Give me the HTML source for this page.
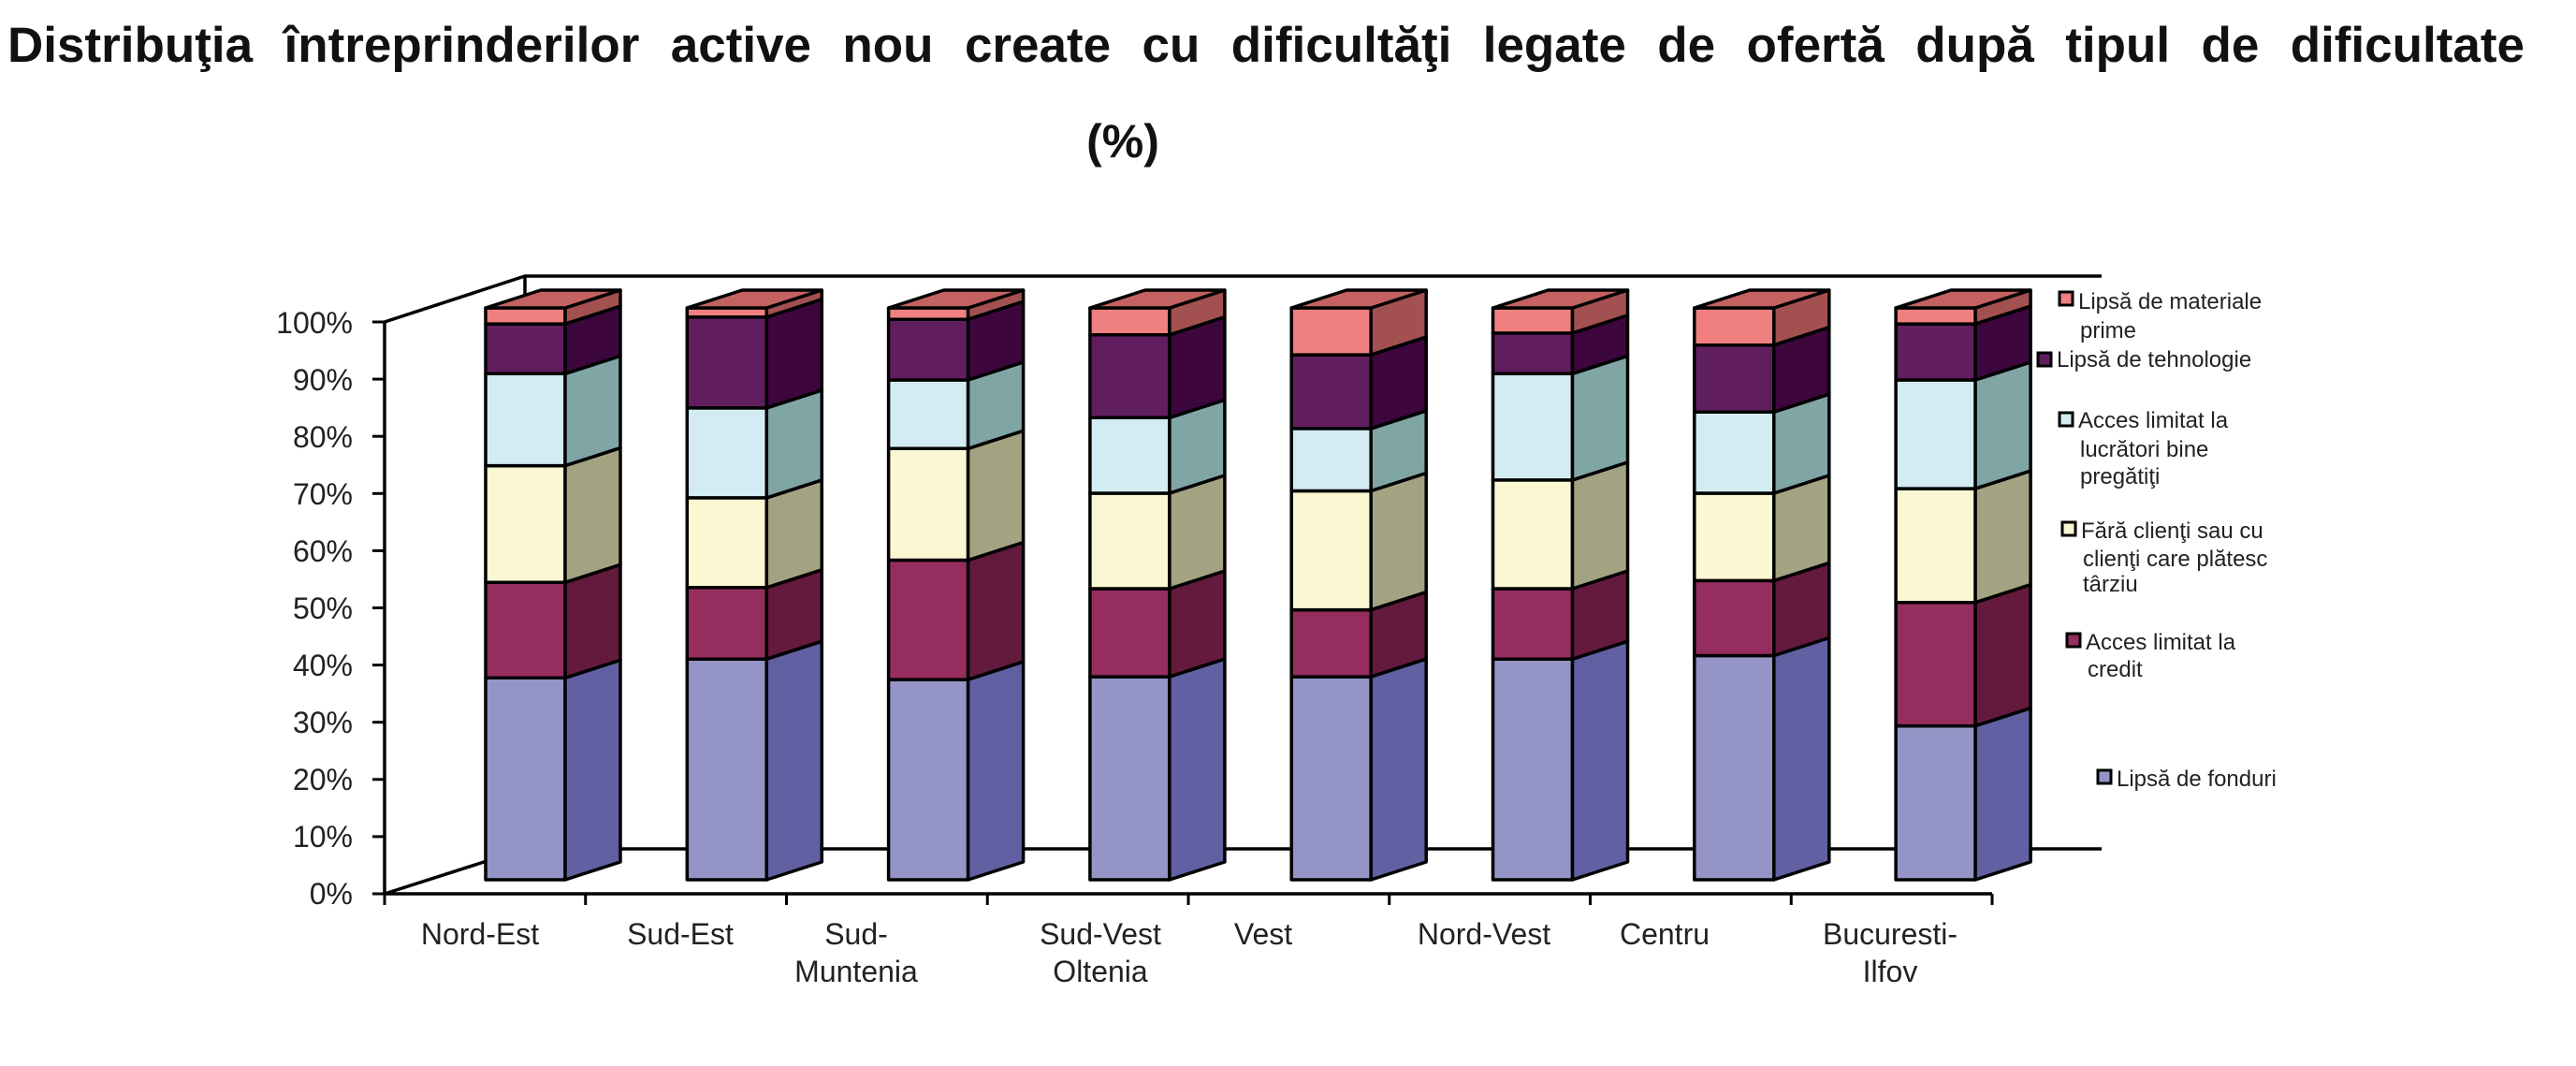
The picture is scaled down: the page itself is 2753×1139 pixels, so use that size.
<!DOCTYPE html>
<html><head><meta charset="utf-8"><style>
html,body{margin:0;padding:0;background:#fff;}
svg{display:block;font-family:"Liberation Sans",Arial,sans-serif;}
#title{position:absolute;left:8px;top:20px;width:2690px;font-family:"Liberation Sans",Arial,sans-serif;font-weight:bold;font-size:53px;line-height:58px;color:#111;text-align:justify;text-align-last:justify;white-space:nowrap;}
</style></head><body>
<div id="title">Distribuţia întreprinderilor active nou create cu dificultăţi legate de ofertă după tipul de dificultate</div>
<svg id="s" width="2753" height="1139" viewBox="0 0 2753 1139" xmlns="http://www.w3.org/2000/svg">
<defs><clipPath id="lg"><rect x="2160" y="290" width="296" height="600"/></clipPath></defs>
<text x="1200" y="168" font-size="50" font-weight="bold" text-anchor="middle" fill="#111">(%)</text>
<g stroke="#000" stroke-width="3.5" fill="none">
<polyline points="411,344 561,295 2246,295"/>
<line x1="561" y1="295" x2="561" y2="907"/>
<line x1="561" y1="907" x2="2246" y2="907"/>
<line x1="411" y1="955" x2="561" y2="907"/>
<line x1="411" y1="344" x2="411" y2="955"/>
<line x1="411" y1="955" x2="2129" y2="955"/>
</g>
<g id="ticks" stroke="#000" stroke-width="3"></g>
<g id="bars"></g>
<g font-size="32" fill="#222" text-anchor="end">
<text x="377" y="966">0%</text><text x="377" y="905">10%</text><text x="377" y="844">20%</text><text x="377" y="783">30%</text><text x="377" y="722">40%</text><text x="377" y="661">50%</text><text x="377" y="600">60%</text><text x="377" y="539">70%</text><text x="377" y="478">80%</text><text x="377" y="417">90%</text><text x="377" y="356">100%</text>
</g>
<g font-size="32" fill="#222" text-anchor="middle">
<text x="513" y="1009">Nord-Est</text>
<text x="727" y="1009">Sud-Est</text>
<text x="915" y="1009">Sud-</text><text x="915" y="1049">Muntenia</text>
<text x="1176" y="1009">Sud-Vest</text><text x="1176" y="1049">Oltenia</text>
<text x="1350" y="1009">Vest</text>
<text x="1586" y="1009">Nord-Vest</text>
<text x="1779" y="1009">Centru</text>
<text x="2020" y="1009">Bucuresti-</text><text x="2020" y="1049">Ilfov</text>
</g>
<g font-size="24" fill="#222" clip-path="url(#lg)">
<rect x="2201" y="312" width="14" height="14" fill="#f08080" stroke="#000" stroke-width="3"/>
<text x="2221" y="330">Lipsă de materiale</text><text x="2223" y="361">prime</text>
<rect x="2178" y="377" width="14" height="14" fill="#611e5f" stroke="#000" stroke-width="3"/>
<text x="2198" y="392">Lipsă de tehnologie</text>
<rect x="2201" y="441" width="14" height="14" fill="#d3ecf3" stroke="#000" stroke-width="3"/>
<text x="2221" y="457">Acces limitat la</text><text x="2223" y="488">lucrători bine</text><text x="2223" y="517">pregătiţi</text>
<rect x="2204" y="558" width="14" height="14" fill="#faf7d2" stroke="#000" stroke-width="3"/>
<text x="2224" y="575">Fără clienţi sau cu</text><text x="2226" y="605">clienţi care plătesc</text><text x="2226" y="632">târziu</text>
<rect x="2209" y="677" width="14" height="14" fill="#962d5f" stroke="#000" stroke-width="3"/>
<text x="2229" y="694">Acces limitat la</text><text x="2231" y="723">credit</text>
<rect x="2242" y="823" width="14" height="14" fill="#9494c6" stroke="#000" stroke-width="3"/>
<text x="2262" y="840">Lipsă de fonduri</text>
</g>
</svg>
<script>
(function(){
var NS="http://www.w3.org/2000/svg";
var t=document.getElementById("ticks");
function ln(g,a,b,c,d){var l=document.createElementNS(NS,"line");l.setAttribute("x1",a);l.setAttribute("y1",b);l.setAttribute("x2",c);l.setAttribute("y2",d);g.appendChild(l);}
for(var i=0;i<=10;i++){var y=955-i*61.1;ln(t,398,y,411,y);}
for(var i=0;i<=8;i++){var x=411+i*214.75;ln(t,x,955,x,967);}
var data=[[35.3,52.0,72.4,88.5,97.2],[38.6,51.1,66.8,82.5,98.4],[35.0,55.9,75.4,87.4,98.0],[35.5,50.9,67.6,80.8,95.3],[35.5,47.2,68.0,78.9,91.8],[38.6,50.9,69.9,88.5,95.6],[39.2,52.3,67.6,81.8,93.5],[26.9,48.5,68.4,87.4,97.2]];
var fr=["#9494c6","#962d5f","#faf7d2","#d3ecf3","#611e5f","#f08080"];
var sd=["#6060a2","#631a3d","#a3a382","#80a5a5","#3d063d","#a35050"];
var g=document.getElementById("bars");
function poly(pts,f){var p=document.createElementNS(NS,"polygon");p.setAttribute("points",pts.map(function(q){return q[0].toFixed(1)+","+q[1].toFixed(1)}).join(" "));p.setAttribute("fill",f);p.setAttribute("stroke","#000");p.setAttribute("stroke-width","3.5");p.setAttribute("stroke-linejoin","round");g.appendChild(p);}
var W=85,DX=59,DY=-19,B=940,S=6.11;
for(var k=0;k<8;k++){
 var x0=519+k*215.3;
 var v=[0].concat(data[k]).concat([100]);
 for(var j=0;j<6;j++){
  var y1=B-v[j]*S,y2=B-v[j+1]*S;
  poly([[x0,y1],[x0+W,y1],[x0+W,y2],[x0,y2]],fr[j]);
  poly([[x0+W,y1],[x0+W+DX,y1+DY],[x0+W+DX,y2+DY],[x0+W,y2]],sd[j]);
 }
 var yt=B-100*S;
 poly([[x0,yt],[x0+W,yt],[x0+W+DX,yt+DY],[x0+DX,yt+DY]],"#c46262");
}
})();
</script>
</body></html>
